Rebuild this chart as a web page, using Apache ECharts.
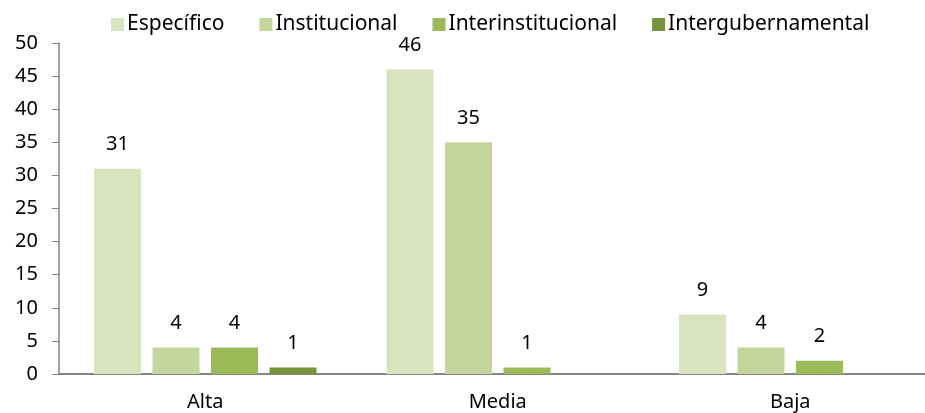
<!DOCTYPE html>
<html><head><meta charset="utf-8">
<script src="https://cdn.jsdelivr.net/npm/echarts@6/dist/echarts.min.js"></script>
<style>html,body{margin:0;padding:0;background:#fff;overflow:hidden}#c{width:940px;height:413px}</style>
</head><body><div id="c"></div>
<script>
const categories = ['Alta', 'Media', 'Baja'];
const especifico = [31, 46, 9];
const institucional = [4, 35, 4];
const interinstitucional = [4, 1, 2];
const intergubernamental = [1, null, null];
const seriesNames = ['Específico', 'Institucional', 'Interinstitucional', 'Intergubernamental'];
const colors = ['#D7E4BD', '#C3D69B', '#9BBB59', '#77933C'];
const font = 'Noto Sans';
const chart = echarts.init(document.getElementById('c'));
const mk = (name, data, color) => ({
  name, type: 'bar', data, barWidth: 47, barGap: '24.5%',
  itemStyle: { color },
  label: { show: true, position: 'top', distance: 14, color: '#000', fontSize: 20, fontFamily: font }
});
chart.setOption({
  animation: false,
  color: colors,
  legend: {
    top: 9, left: 106, itemWidth: 13, itemHeight: 13, itemGap: 35,
    icon: 'rect',
    textStyle: { fontSize: 21, fontFamily: font, color: '#000', padding: [0, 0, 0, -2] },
    data: seriesNames
  },
  grid: { left: 59, right: 3.5, top: 43, bottom: 39 },
  xAxis: {
    type: 'category', data: categories,
    axisLine: { lineStyle: { color: '#868686', width: 2 } },
    axisTick: { show: false },
    axisLabel: { color: '#000', fontSize: 20, fontFamily: font, margin: 18 }
  },
  yAxis: {
    type: 'value', min: 0, max: 50, interval: 5,
    splitLine: { show: false },
    axisLine: { show: true, lineStyle: { color: '#868686', width: 1.5 } },
    axisTick: { show: true, length: 7, lineStyle: { color: '#868686' } },
    axisLabel: { color: '#000', fontSize: 20, fontFamily: font, margin: 21 }
  },
  series: [
    mk(seriesNames[0], especifico, colors[0]),
    mk(seriesNames[1], institucional, colors[1]),
    mk(seriesNames[2], interinstitucional, colors[2]),
    mk(seriesNames[3], intergubernamental, colors[3])
  ]
});
</script></body></html>
